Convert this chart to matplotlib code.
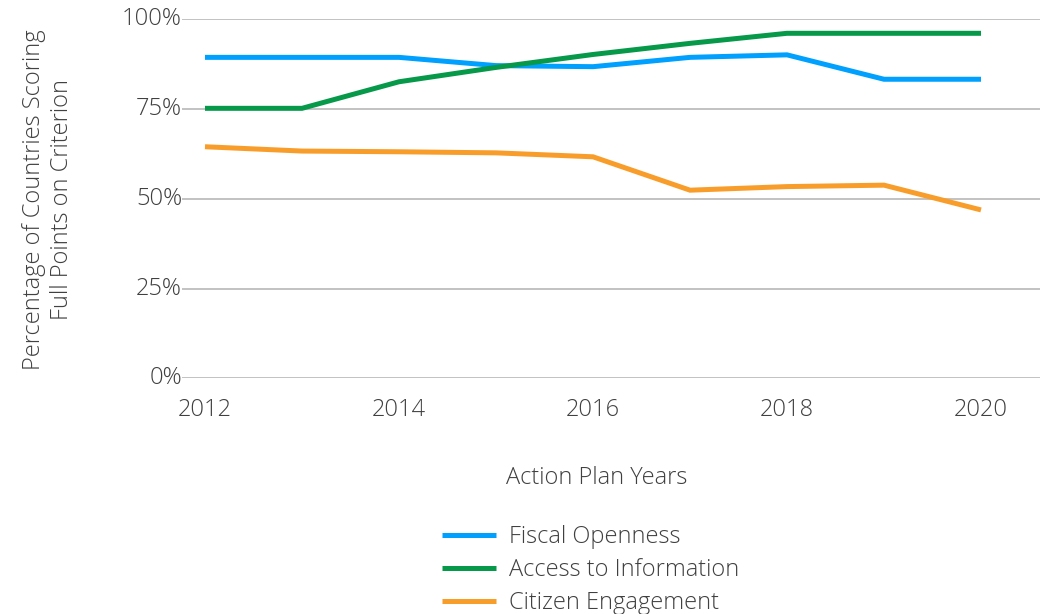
import matplotlib
matplotlib.use("Agg")
import matplotlib.pyplot as plt
from matplotlib.ticker import PercentFormatter

years = [2012, 2013, 2014, 2015, 2016, 2017, 2018, 2019, 2020]
fiscal_openness = [89.4, 89.4, 89.4, 87.1, 86.8, 89.4, 90.1, 83.3, 83.3]
access_to_information = [75.2, 75.2, 82.6, 86.6, 90.2, 93.3, 96.1, 96.1, 96.1]
citizen_engagement = [64.5, 63.3, 63.1, 62.8, 61.7, 52.4, 53.4, 53.8, 46.9]
series_names = ["Fiscal Openness", "Access to Information", "Citizen Engagement"]
colors = ["#00A0FF", "#06994A", "#F99D2A"]
x_ticks = [2012, 2014, 2016, 2018, 2020]
y_ticks = [0, 25, 50, 75, 100]

plt.rcParams['font.family'] = ['Open Sans', 'DejaVu Sans']
plt.rcParams['font.weight'] = 'light'
text_color = "#404040"
fs = 17

fig = plt.figure(figsize=(10.4, 6.14), dpi=100)
ax = fig.add_axes([182/1040, 1-378.3/614, 1-182/1040, (378.3-19.3)/614])

handles = []
for vals, name, c in zip([fiscal_openness, access_to_information, citizen_engagement], series_names, colors):
    h, = ax.plot(years, vals, color=c, lw=3.6, label=name, solid_capstyle='butt', solid_joinstyle='miter')
    handles.append(h)

ax.set_ylim(0, 100)
ax.set_xlim(2012 - 23/97, 2012 + (1040-205)/97)
ax.set_yticks(y_ticks)
ax.yaxis.set_major_formatter(PercentFormatter(decimals=0))
ax.set_xticks(x_ticks)
ax.grid(axis='y', color='#BDBDBD', lw=1.3)
ax.set_axisbelow(True)
for s in ax.spines.values():
    s.set_visible(False)
ax.tick_params(axis='both', length=0, labelsize=fs, colors=text_color)
ax.tick_params(axis='y', pad=0)
ax.tick_params(axis='x', pad=14)
for lab in ax.get_yticklabels():
    lab.set_verticalalignment('center')

fig.text(597/1040, 1-478/614, "Action Plan Years", ha='center', va='center',
         fontsize=fs, color=text_color)
fig.text(48/1040, 1-200/614, "Percentage of Countries Scoring\nFull Points on Criterion",
         ha='center', va='center', rotation=90, fontsize=fs, color=text_color,
         linespacing=1.25)

fig.legend(handles=handles, labels=series_names, loc='upper left',
           bbox_to_anchor=(442/1040, 1-525/614), frameon=False, fontsize=fs,
           handlelength=2.3, handletextpad=0.55, labelspacing=0.39,
           labelcolor=text_color, borderaxespad=0, borderpad=0)

fig.savefig("out.png", dpi=100)
